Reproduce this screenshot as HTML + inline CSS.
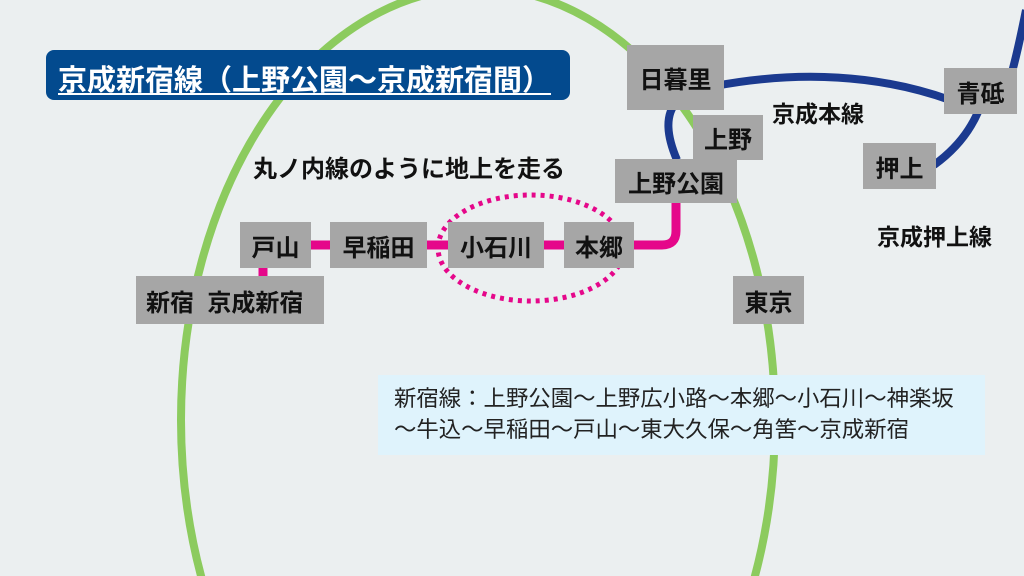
<!DOCTYPE html>
<html><head><meta charset="utf-8"><style>
body{margin:0;width:1024px;height:576px;overflow:hidden;background:#ebeff0;font-family:"Liberation Sans","Noto Sans CJK JP",sans-serif;}
.b{position:absolute;background:#a6a6a6;color:#111;font-weight:bold;font-size:24px;display:flex;align-items:center;justify-content:center;}
.t{position:absolute;font-weight:bold;font-size:23px;color:#111;white-space:nowrap;}
</style></head><body>
<svg width="1024" height="576" style="position:absolute;left:0;top:0;overflow:hidden">
<ellipse cx="478" cy="420" rx="297" ry="432" fill="none" stroke="#8ccb5e" stroke-width="8"/>
<path d="M677 160 C662 125 662 92 715 86 C800 70 880 75 950 100" fill="none" stroke="#1b3a8f" stroke-width="8"/>
<path d="M1012 72 C1018 50 1022 30 1026 10" fill="none" stroke="#1b3a8f" stroke-width="8"/>
<path d="M978 112 C968 135 952 152 934 165" fill="none" stroke="#1b3a8f" stroke-width="8"/>
<path d="M311 245 H662 Q676 245 676 231 V200" fill="none" stroke="#e5078a" stroke-width="9"/>
<line x1="263" y1="266" x2="263" y2="280" stroke="#e5078a" stroke-width="9"/>
<ellipse cx="531" cy="248" rx="93" ry="53" fill="none" stroke="#e5078a" stroke-width="5" stroke-dasharray="4 5"/>
</svg>
<div style="position:absolute;left:46px;top:50px;width:524px;height:50px;background:#034a8e;border-radius:8px;"></div>
<div class="t" style="left:58px;top:57px;color:#fff;font-size:29px;text-decoration:underline;text-underline-offset:3px">京成新宿線（上野公園～京成新宿間）</div>
<div class="b" style="left:627px;top:45px;width:97px;height:65px">日暮里</div>
<div class="b" style="left:944px;top:68px;width:73px;height:46px">青砥</div>
<div class="b" style="left:693px;top:115px;width:70px;height:45px">上野</div>
<div class="b" style="left:863px;top:143px;width:73px;height:46px">押上</div>
<div class="b" style="left:615px;top:159px;width:122px;height:44px">上野公園</div>
<div class="b" style="left:240px;top:222px;width:71px;height:46px">戸山</div>
<div class="b" style="left:330px;top:222px;width:97px;height:46px">早稲田</div>
<div class="b" style="left:448px;top:222px;width:96px;height:46px">小石川</div>
<div class="b" style="left:564px;top:222px;width:70px;height:46px">本郷</div>
<div class="b" style="left:136px;top:276px;width:188px;height:48px;justify-content:flex-start;padding-left:10px;box-sizing:border-box">新宿&nbsp;&nbsp;京成新宿</div>
<div class="b" style="left:733px;top:276px;width:71px;height:48px">東京</div>
<div class="t" style="left:772px;top:95px">京成本線</div>
<div class="t" style="left:877px;top:218px">京成押上線</div>
<div class="t" style="left:253px;top:149px;font-size:24px">丸ノ内線のように地上を走る</div>
<div style="position:absolute;left:378px;top:375px;width:607px;height:80px;background:#dff3fc;"></div>
<div style="position:absolute;left:394px;top:383px;font-size:22.4px;line-height:31px;color:#222;white-space:nowrap">新宿線：上野公園～上野広小路～本郷～小石川～神楽坂<br>～牛込～早稲田～戸山～東大久保～角筈～京成新宿</div>
</body></html>
